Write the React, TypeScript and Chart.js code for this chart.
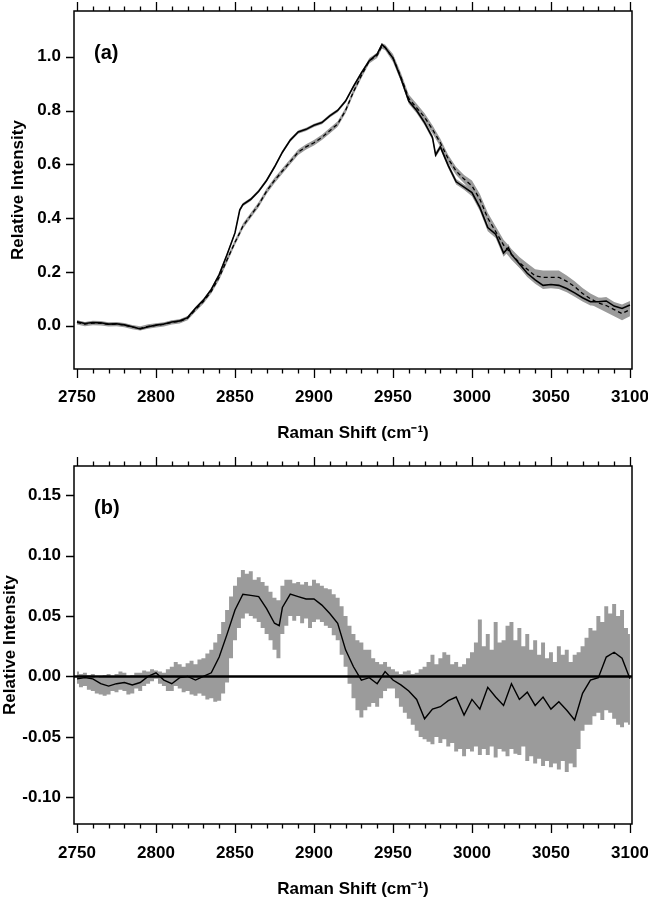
import React, { useEffect, useRef } from "react";
import { Chart, registerables } from "chart.js";

Chart.register(...registerables);

// ---------- data ----------
const X_TICKS = [2750, 2800, 2850, 2900, 2950, 3000, 3050, 3100];
const Y_TICKS_A = [0.0, 0.2, 0.4, 0.6, 0.8, 1.0];
const Y_TICKS_B = [-0.1, -0.05, 0.0, 0.05, 0.1, 0.15];

const X_A = [
  2750, 2755, 2760, 2765, 2770, 2775, 2780, 2785, 2790, 2795, 2800, 2805, 2810, 2815, 2820, 2825, 2830, 2835,
  2840, 2845, 2850, 2853, 2855, 2860, 2865, 2870, 2875, 2880, 2885, 2890, 2895, 2900, 2905, 2910, 2915, 2920,
  2925, 2930, 2935, 2940, 2943, 2945, 2950, 2955, 2960, 2965, 2970, 2975, 2977, 2980, 2985, 2990, 2995, 3000,
  3005, 3010, 3015, 3020, 3023, 3025, 3030, 3035, 3040, 3045, 3050, 3055, 3060, 3065, 3070, 3075, 3080, 3085,
  3090, 3095, 3100,
];
const SOLID_A = [
  0.015, 0.008, 0.012, 0.011, 0.006, 0.007, 0.003, -0.004, -0.012, -0.004, 0.002, 0.006, 0.014, 0.018, 0.03, 0.065, 0.095, 0.135,
  0.19, 0.265, 0.345, 0.43, 0.45, 0.47, 0.5, 0.54, 0.59, 0.645, 0.69, 0.72, 0.73, 0.745, 0.755, 0.78, 0.8, 0.835,
  0.89, 0.94, 0.985, 1.01, 1.045, 1.035, 0.995, 0.92, 0.835, 0.8, 0.755, 0.7, 0.635, 0.665, 0.595, 0.535, 0.515, 0.495,
  0.44, 0.365, 0.34, 0.27, 0.29, 0.265, 0.23, 0.195, 0.17, 0.15, 0.153, 0.15, 0.138, 0.122, 0.104, 0.089, 0.089, 0.092,
  0.073, 0.064, 0.077,
];
const DASH_A = [
  0.012, 0.006, 0.01, 0.009, 0.005, 0.006, 0.002, -0.005, -0.01, -0.003, 0.001, 0.005, 0.012, 0.016, 0.028, 0.06, 0.09, 0.128,
  0.18, 0.245, 0.31, 0.345, 0.37, 0.41, 0.45, 0.5, 0.54, 0.575, 0.61, 0.645, 0.665, 0.68, 0.7, 0.725, 0.75, 0.8,
  0.87, 0.93, 0.985, 1.005, 1.04, 1.035, 0.995, 0.925, 0.845, 0.81, 0.775, 0.73, 0.71, 0.68, 0.62, 0.575, 0.545, 0.52,
  0.47, 0.4, 0.35, 0.3, 0.28, 0.265, 0.235, 0.21, 0.185, 0.18, 0.18, 0.18, 0.165, 0.145, 0.12, 0.1, 0.085, 0.075,
  0.06, 0.045, 0.06,
];
const ERR_SOLID_A = [
  0.005, 0.005, 0.005, 0.005, 0.005, 0.005, 0.005, 0.005, 0.005, 0.005, 0.005, 0.005, 0.005, 0.005, 0.005, 0.005, 0.005, 0.005,
  0.006, 0.006, 0.006, 0.006, 0.006, 0.006, 0.006, 0.006, 0.006, 0.006, 0.006, 0.006, 0.006, 0.006, 0.006, 0.006, 0.006, 0.006,
  0.006, 0.006, 0.006, 0.006, 0.006, 0.006, 0.01, 0.01, 0.01, 0.01, 0.01, 0.01, 0.01, 0.01, 0.01, 0.01, 0.01, 0.014,
  0.014, 0.014, 0.014, 0.014, 0.014, 0.014, 0.014, 0.014, 0.014, 0.014, 0.014, 0.014, 0.014, 0.014, 0.014, 0.014, 0.014, 0.015,
  0.015, 0.015, 0.015,
];
const ERR_DASH_A = [
  0.008, 0.008, 0.008, 0.008, 0.008, 0.008, 0.008, 0.008, 0.008, 0.008, 0.008, 0.008, 0.008, 0.008, 0.008, 0.008, 0.008, 0.008,
  0.01, 0.01, 0.01, 0.01, 0.01, 0.01, 0.01, 0.01, 0.01, 0.01, 0.01, 0.01, 0.01, 0.01, 0.01, 0.01, 0.01, 0.01,
  0.01, 0.01, 0.01, 0.01, 0.01, 0.01, 0.015, 0.015, 0.015, 0.015, 0.015, 0.015, 0.015, 0.015, 0.015, 0.015, 0.015, 0.02,
  0.02, 0.02, 0.02, 0.02, 0.02, 0.02, 0.02, 0.022, 0.025, 0.025, 0.025, 0.025, 0.022, 0.02, 0.02, 0.02, 0.02, 0.025,
  0.025, 0.025, 0.025,
];

const X_B = [
  2750, 2755, 2760, 2765, 2770, 2775, 2780, 2785, 2790, 2795, 2800, 2805, 2810, 2815, 2820, 2825, 2830, 2835,
  2840, 2845, 2850, 2855, 2860, 2865, 2870, 2875, 2878, 2880, 2885, 2890, 2895, 2900, 2905, 2910, 2915, 2920,
  2925, 2930, 2935, 2940, 2945, 2950, 2955, 2960, 2965, 2970, 2975, 2980, 2985, 2990, 2995, 3000, 3005, 3010,
  3015, 3020, 3025, 3030, 3035, 3040, 3045, 3050, 3055, 3060, 3065, 3070, 3075, 3080, 3085, 3090, 3095, 3100,
];
const DIFF_B = [
  -0.002, -0.001, -0.002, -0.006, -0.008, -0.006, -0.005, -0.007, -0.005, 0.0, 0.003, -0.003, -0.006, -0.001, 0.0, -0.003, 0.0, 0.003,
  0.016, 0.035, 0.055, 0.068, 0.067, 0.066, 0.056, 0.044, 0.042, 0.057, 0.068, 0.066, 0.064, 0.064, 0.059, 0.052, 0.044, 0.022,
  0.008, -0.003, -0.001, -0.006, 0.004, -0.003, -0.007, -0.012, -0.019, -0.035, -0.027, -0.025, -0.02, -0.017, -0.032, -0.019, -0.027, -0.009,
  -0.017, -0.024, -0.006, -0.019, -0.013, -0.024, -0.017, -0.027, -0.021, -0.028, -0.036, -0.014, -0.003, -0.001, 0.016, 0.02, 0.015, -0.002,
];

// error band of panel (b), sampled every 2.5 cm-1
const X_BAND_B = [
  2750, 2752.5, 2755, 2757.5, 2760, 2762.5, 2765, 2767.5, 2770, 2772.5, 2775, 2777.5, 2780, 2782.5, 2785, 2787.5, 2790, 2792.5,
  2795, 2797.5, 2800, 2802.5, 2805, 2807.5, 2810, 2812.5, 2815, 2817.5, 2820, 2822.5, 2825, 2827.5, 2830, 2832.5, 2835, 2837.5,
  2840, 2842.5, 2845, 2847.5, 2850, 2852.5, 2855, 2857.5, 2860, 2862.5, 2865, 2867.5, 2870, 2872.5, 2875, 2877.5, 2880, 2882.5,
  2885, 2887.5, 2890, 2892.5, 2895, 2897.5, 2900, 2902.5, 2905, 2907.5, 2910, 2912.5, 2915, 2917.5, 2920, 2922.5, 2925, 2927.5,
  2930, 2932.5, 2935, 2937.5, 2940, 2942.5, 2945, 2947.5, 2950, 2952.5, 2955, 2957.5, 2960, 2962.5, 2965, 2967.5, 2970, 2972.5,
  2975, 2977.5, 2980, 2982.5, 2985, 2987.5, 2990, 2992.5, 2995, 2997.5, 3000, 3002.5, 3005, 3007.5, 3010, 3012.5, 3015, 3017.5,
  3020, 3022.5, 3025, 3027.5, 3030, 3032.5, 3035, 3037.5, 3040, 3042.5, 3045, 3047.5, 3050, 3052.5, 3055, 3057.5, 3060, 3062.5,
  3065, 3067.5, 3070, 3072.5, 3075, 3077.5, 3080, 3082.5, 3085, 3087.5, 3090, 3092.5, 3095, 3097.5, 3100,
];
const UPPER_B = [
  0.004, 0.002, 0.003, 0.001, 0.002, -0.001, 0.0, 0.001, 0.002, 0.0, 0.002, 0.004, 0.003, 0.0, 0.001, 0.003, 0.003, 0.005,
  0.004, 0.006, 0.005, 0.004, 0.003, 0.006, 0.008, 0.012, 0.01, 0.008, 0.011, 0.013, 0.01, 0.014, 0.015, 0.019, 0.022, 0.028,
  0.035, 0.045, 0.055, 0.066, 0.075, 0.082, 0.088, 0.085, 0.087, 0.08, 0.082, 0.078, 0.075, 0.07, 0.065, 0.063, 0.075, 0.08,
  0.08, 0.077, 0.078, 0.076, 0.078, 0.075, 0.08, 0.077, 0.075, 0.073, 0.072, 0.068, 0.065, 0.058, 0.05, 0.042, 0.035, 0.03,
  0.028, 0.022, 0.022, 0.015, 0.012, 0.01, 0.012, 0.008, 0.006, 0.004, 0.002, 0.004, 0.005, 0.002, 0.003, 0.006, 0.008, 0.012,
  0.018, 0.01, 0.015, 0.02, 0.018, 0.01, 0.012, 0.008, 0.01, 0.015, 0.02, 0.028, 0.047, 0.025, 0.035, 0.022, 0.045, 0.028,
  0.03, 0.042, 0.045, 0.03, 0.04, 0.025, 0.035, 0.022, 0.03, 0.018, 0.028, 0.015, 0.02, 0.012, 0.025, 0.018, 0.022, 0.012,
  0.018, 0.02, 0.025, 0.032, 0.04, 0.038, 0.05, 0.045, 0.058, 0.052, 0.06, 0.05, 0.055, 0.04, 0.035,
];
const LOWER_B = [
  -0.006, -0.009, -0.008, -0.011, -0.012, -0.014, -0.015, -0.016, -0.015, -0.012, -0.013, -0.011, -0.012, -0.015, -0.014, -0.01, -0.012, -0.008,
  -0.006, -0.004, -0.002, -0.006, -0.008, -0.012, -0.012, -0.008, -0.01, -0.013, -0.012, -0.015, -0.016, -0.014, -0.016, -0.019, -0.018, -0.021,
  -0.02, -0.014, -0.005, 0.015, 0.03, 0.04, 0.048, 0.052, 0.05, 0.048, 0.045, 0.04, 0.035, 0.03, 0.022, 0.015, 0.035, 0.042,
  0.05, 0.046, 0.05, 0.044, 0.048, 0.04, 0.045, 0.047, 0.045, 0.042, 0.04, 0.034, 0.03, 0.018, 0.008, -0.006, -0.018, -0.028,
  -0.034, -0.028, -0.025, -0.022, -0.025, -0.018, -0.012, -0.01, -0.01, -0.018, -0.025, -0.03, -0.035, -0.04, -0.045, -0.05, -0.052, -0.054,
  -0.056, -0.05, -0.055, -0.052, -0.058, -0.055, -0.062, -0.06, -0.066, -0.06, -0.062, -0.058, -0.065, -0.06, -0.065, -0.058, -0.067, -0.06,
  -0.062, -0.066, -0.06, -0.064, -0.065, -0.058, -0.07, -0.066, -0.072, -0.068, -0.074, -0.07, -0.075, -0.072, -0.077, -0.07, -0.079, -0.072,
  -0.075, -0.06, -0.045, -0.04, -0.04, -0.033, -0.03, -0.036, -0.028, -0.03, -0.035, -0.04, -0.042, -0.038, -0.04,
];

// ---------- style ----------
const FONT = '"Liberation Sans", Arial, Helvetica, sans-serif';
const GRAY = "#9b9b9b";
const X_MIN = 2748.1;
const X_MAX = 3101.3;

const framePlugin = {
  id: "frame",
  afterDatasetsDraw(chart: any, _args: any, opts: any) {
    const { ctx, chartArea, scales } = chart;
    const { left, right } = chartArea;
    const y = scales.y;
    if (opts.zeroLine) {
      ctx.save();
      const py = y.getPixelForValue(0);
      ctx.strokeStyle = "#000";
      ctx.lineWidth = 2.6;
      ctx.beginPath();
      ctx.moveTo(left, py);
      ctx.lineTo(right, py);
      ctx.stroke();
      ctx.restore();
    }
  },
  afterDraw(chart: any, _args: any, opts: any) {
    const { ctx, chartArea, scales } = chart;
    const { left, right, top, bottom } = chartArea;
    const x = scales.x;
    const y = scales.y;
    ctx.save();
    ctx.strokeStyle = "#000";
    ctx.lineWidth = 1.5;
    ctx.strokeRect(left, top, right - left, bottom - top);
    ctx.lineWidth = 1.3;
    ctx.beginPath();
    for (let v = X_TICKS[0]; v <= X_TICKS[X_TICKS.length - 1]; v += 10) {
      const px = Math.round(x.getPixelForValue(v)) + 0.5;
      const major = X_TICKS.includes(v);
      const len = major ? 9 : 4.5;
      ctx.moveTo(px, bottom);
      ctx.lineTo(px, bottom + len);
      ctx.moveTo(px, top);
      ctx.lineTo(px, top - len);
    }
    for (const v of opts.yTicks) {
      const py = Math.round(y.getPixelForValue(v)) + 0.5;
      ctx.moveTo(left, py);
      ctx.lineTo(left - 8, py);
    }
    ctx.stroke();
    ctx.fillStyle = "#000";
    ctx.font = `bold 20px ${FONT}`;
    ctx.textAlign = "left";
    ctx.textBaseline = "middle";
    ctx.fillText(opts.label, left + 20, top + 42);
    ctx.restore();
  },
};

function makeOptions(cfg: any) {
  return {
    animation: false,
    responsive: false,
    maintainAspectRatio: false,
    layout: { padding: { left: 0, right: 16, top: cfg.top, bottom: 0 } },
    plugins: {
      legend: { display: false },
      tooltip: { enabled: false },
      frame: { yTicks: cfg.yTicks, label: cfg.label, zeroLine: cfg.zeroLine },
    },
    scales: {
      x: {
        type: "linear",
        position: "bottom",
        min: X_MIN,
        max: X_MAX,
        afterBuildTicks: (s: any) => {
          s.ticks = X_TICKS.map((v) => ({ value: v }));
        },
        afterFit: (s: any) => {
          s.height = cfg.bottomH;
          s.paddingLeft = 0;
          s.paddingRight = 0;
        },
        grid: { display: false, drawTicks: false },
        border: { display: false },
        ticks: {
          padding: cfg.xTickPad,
          color: "#000",
          autoSkip: false,
          maxRotation: 0,
          font: { family: FONT, size: 17, weight: "bold" },
          callback: (v: any) => String(v),
        },
        title: {
          display: true,
          text: "Raman Shift (cm\u207B\u00B9)",
          color: "#000",
          font: { family: FONT, size: 17, weight: "bold" },
          padding: { top: 0, bottom: cfg.xTitlePad },
        },
      },
      y: {
        type: "linear",
        position: "left",
        min: cfg.yMin,
        max: cfg.yMax,
        afterBuildTicks: (s: any) => {
          s.ticks = cfg.yTicks.map((v: number) => ({ value: v }));
        },
        afterFit: (s: any) => {
          s.width = 74;
          s.paddingTop = 0;
          s.paddingBottom = 0;
        },
        grid: { display: false, drawTicks: false },
        border: { display: false },
        ticks: {
          padding: 13,
          color: "#000",
          autoSkip: false,
          font: { family: FONT, size: 17, weight: "bold" },
          callback: (v: any) => Number(v).toFixed(cfg.decimals),
        },
        title: {
          display: true,
          text: "Relative Intensity",
          color: "#000",
          font: { family: FONT, size: 17, weight: "bold" },
          padding: { top: cfg.yTitlePad, bottom: 0 },
        },
      },
    },
  };
}

function pts(xs: number[], ys: number[]) {
  return xs.map((x, i) => ({ x, y: ys[i] }));
}

function bandPair(xs: number[], up: number[], lo: number[], stepped: any) {
  return [
    {
      data: pts(xs, up),
      borderWidth: 0,
      pointRadius: 0,
      backgroundColor: GRAY,
      borderColor: GRAY,
      fill: "+1",
      stepped,
      order: 5,
    },
    {
      data: pts(xs, lo),
      borderWidth: 0,
      pointRadius: 0,
      backgroundColor: GRAY,
      borderColor: GRAY,
      fill: false,
      stepped,
      order: 5,
    },
  ];
}

function PanelA() {
  const ref = useRef<HTMLCanvasElement>(null);
  useEffect(() => {
    const solidUp = SOLID_A.map((v, i) => v + ERR_SOLID_A[i]);
    const solidLo = SOLID_A.map((v, i) => v - ERR_SOLID_A[i]);
    const dashUp = DASH_A.map((v, i) => v + ERR_DASH_A[i]);
    const dashLo = DASH_A.map((v, i) => v - ERR_DASH_A[i]);
    const chart = new Chart(ref.current as HTMLCanvasElement, {
      type: "line",
      data: {
        datasets: [
          ...bandPair(X_A, dashUp, dashLo, false),
          ...bandPair(X_A, solidUp, solidLo, false),
          {
            data: pts(X_A, DASH_A),
            borderColor: "#000",
            borderWidth: 1.3,
            borderDash: [4, 3],
            pointRadius: 0,
            fill: false,
            order: 1,
          },
          {
            data: pts(X_A, SOLID_A),
            borderColor: "#000",
            borderWidth: 1.6,
            pointRadius: 0,
            fill: false,
            order: 0,
          },
        ] as any,
      },
      options: makeOptions({
        top: 11,
        bottomH: 81,
        yMin: -0.161,
        yMax: 1.17,
        yTicks: Y_TICKS_A,
        decimals: 1,
        label: "(a)",
        zeroLine: false,
        xTickPad: 18,
        xTitlePad: 6,
        yTitlePad: 8,
      }) as any,
      plugins: [framePlugin],
    });
    return () => chart.destroy();
  }, []);
  return <canvas ref={ref} width={648} height={450} style={{ display: "block" }} />;
}

function PanelB() {
  const ref = useRef<HTMLCanvasElement>(null);
  useEffect(() => {
    const chart = new Chart(ref.current as HTMLCanvasElement, {
      type: "line",
      data: {
        datasets: [
          ...bandPair(X_BAND_B, UPPER_B, LOWER_B, "middle"),
          {
            data: pts(X_B, DIFF_B),
            borderColor: "#000",
            borderWidth: 1.4,
            pointRadius: 0,
            fill: false,
            order: 0,
          },
        ] as any,
      },
      options: makeOptions({
        top: 16,
        bottomH: 76,
        yMin: -0.122,
        yMax: 0.174,
        yTicks: Y_TICKS_B,
        decimals: 2,
        label: "(b)",
        zeroLine: true,
        xTickPad: 19,
        xTitlePad: 0,
        yTitlePad: 0,
      }) as any,
      plugins: [framePlugin],
    });
    return () => chart.destroy();
  }, []);
  return <canvas ref={ref} width={648} height={450} style={{ display: "block" }} />;
}

export default function App() {
  return (
    <div style={{ position: "absolute", left: 0, top: 0, width: 648, height: 900, background: "#fff" }}>
      <PanelA />
      <PanelB />
    </div>
  );
}
